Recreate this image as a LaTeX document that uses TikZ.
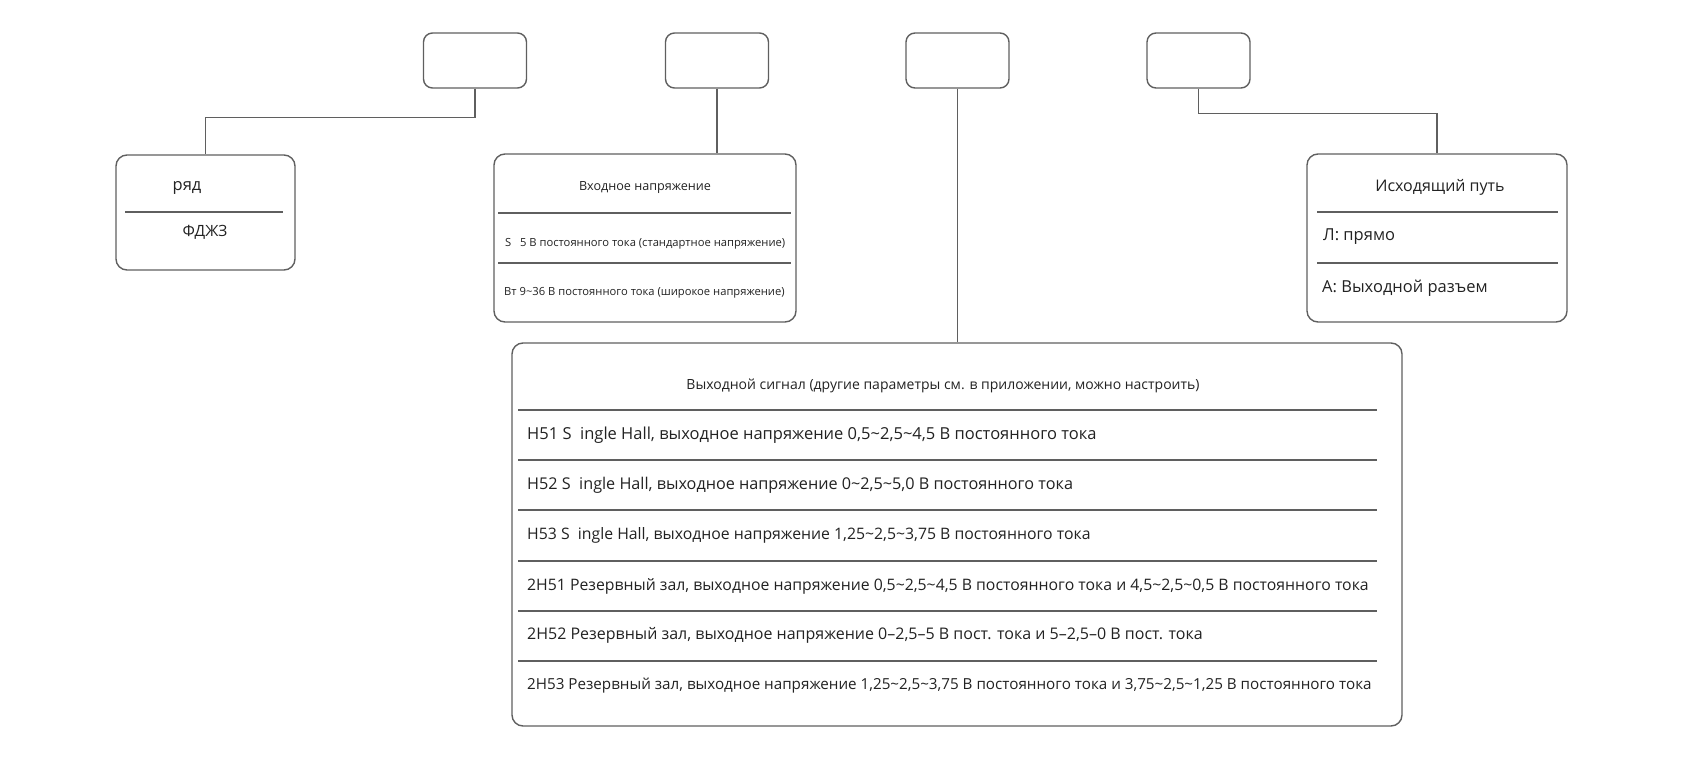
\documentclass[tikz,border=0pt]{standalone}
\usepackage{fontspec}
\setmainfont{Open Sans}
\definecolor{linec}{HTML}{5F5F5F}
\definecolor{textc}{HTML}{222222}
\tikzset{
  topbox/.style={draw=linec, line width=1.4pt, rounded corners=9pt, minimum width=103pt, minimum height=55pt, inner sep=0pt},
  bigbox/.style={draw=linec, line width=1.4pt, rounded corners=11pt, inner sep=0pt},
  conn/.style={draw=linec, line width=1.4pt},
  divline/.style={draw=linec, line width=1.4pt},
  txt/.style={text=textc, inner sep=0pt},
  ltxt/.style={txt, anchor=west},
}
\begin{document}
\begin{tikzpicture}[x=1pt,y=-1pt]
\useasboundingbox (0,0) rectangle (1684,778);
% top boxes
\node[topbox] (t1) at (475,60.5) {};
\node[topbox] (t2) at (717,60.5) {};
\node[topbox] (t3) at (957.5,60.5) {};
\node[topbox] (t4) at (1198.5,60.5) {};
% lower boxes
\node[bigbox, minimum width=179pt, minimum height=115pt] (ser) at (205.5,212.5) {};
\node[bigbox, minimum width=302pt, minimum height=168pt] (inp) at (645,238) {};
\node[bigbox, minimum width=260pt, minimum height=168pt] (outp) at (1437,238) {};
\node[bigbox, minimum width=890pt, minimum height=383pt] (sig) at (957,534.5) {};
% connectors
\draw[conn] (t1.south) -- ++(0,29) -| (ser.north);
\draw[conn] (t2.south) -- (t2.south |- inp.north);
\draw[conn] (t3.south) -- (t3.south |- sig.north);
\draw[conn] (t4.south) -- ++(0,25) -| (outp.north);
% dividers
\draw[divline] (125,212) -- (283,212);
\draw[divline] (498,213) -- (791,213);
\draw[divline] (498,263) -- (791,263);
\draw[divline] (1317,212) -- (1558,212);
\draw[divline] (1317,263) -- (1558,263);
\foreach \yy in {410,460,510,561,611,661} \draw[divline] (518,\yy) -- (1377,\yy);
% texts: series
\node[txt, font=\fontsize{16.5}{19}\selectfont] (serT) at (187,188) {ряд};
\node[txt, font=\fontsize{15.5}{18}\selectfont] (serV) at (205,232) {ФДЖЗ};
% input voltage
\node[txt, font=\fontsize{12.6}{15}\selectfont] (inpT) at (645,188) {Входное напряжение};
\node[ltxt, font=\fontsize{11.2}{14}\selectfont] (inp1) at (505,244) {S\ \ \ 5 В постоянного тока (стандартное напряжение)};
\node[ltxt, font=\fontsize{11.2}{14}\selectfont] (inp2) at (504,293) {Вт 9\char`~36 В постоянного тока (широкое напряжение)};
% output path
\node[txt, font=\fontsize{16}{19}\selectfont] (outT) at (1440,187) {Исходящий путь};
\node[ltxt, font=\fontsize{16.5}{19}\selectfont] (out1) at (1323,237) {Л: прямо};
\node[ltxt, font=\fontsize{16.5}{19}\selectfont] (out2) at (1322,288) {А: Выходной разъем};
% output signal
\node[txt, font=\fontsize{14}{17}\selectfont] (sigT) at (943,386) {Выходной сигнал (другие параметры см. в приложении, можно настроить)};
\node[ltxt, font=\fontsize{16.5}{19}\selectfont] (r1) at (527,435) {H51 S\ \ ingle Hall, выходное напряжение 0,5\char`~2,5\char`~4,5 В постоянного тока};
\node[ltxt, font=\fontsize{16.2}{19}\selectfont] (r2) at (527,485) {H52 S\ \ ingle Hall, выходное напряжение 0\char`~2,5\char`~5,0 В постоянного тока};
\node[ltxt, font=\fontsize{15.8}{19}\selectfont] (r3) at (527,535) {H53 S\ \ ingle Hall, выходное напряжение 1,25\char`~2,5\char`~3,75 В постоянного тока};
\node[ltxt, font=\fontsize{15.8}{19}\selectfont] (r4) at (527,586) {2H51 Резервный зал, выходное напряжение 0,5\char`~2,5\char`~4,5 В постоянного тока и 4,5\char`~2,5\char`~0,5 В постоянного тока};
\node[ltxt, font=\fontsize{16}{19}\selectfont] (r5) at (527,635) {2H52 Резервный зал, выходное напряжение 0–2,5–5 В пост. тока и 5–2,5–0 В пост. тока};
\node[ltxt, font=\fontsize{15.2}{18}\selectfont] (r6) at (527,686) {2H53 Резервный зал, выходное напряжение 1,25\char`~2,5\char`~3,75 В постоянного тока и 3,75\char`~2,5\char`~1,25 В постоянного тока};
\end{tikzpicture}
\end{document}
